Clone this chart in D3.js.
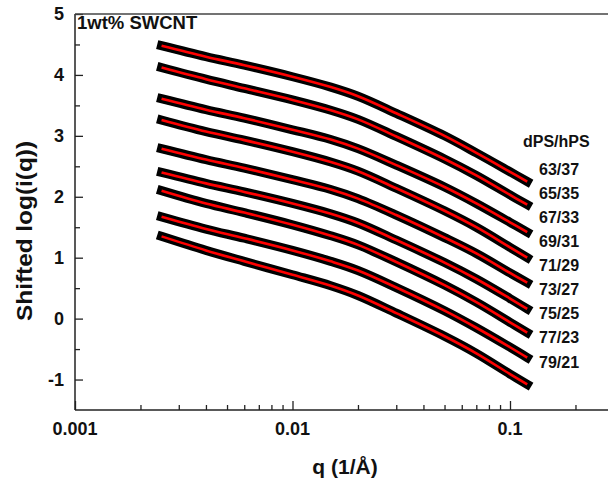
<!DOCTYPE html>
<html>
<head>
<meta charset="utf-8">
<script src="https://cdn.jsdelivr.net/npm/d3@7"></script>
<style>
  html, body { margin: 0; padding: 0; background: #ffffff; }
  svg text { font-family: "Liberation Sans", Arial, sans-serif; font-weight: bold; fill: #111; }
</style>
</head>
<body>
<svg id="chart" width="608" height="484"></svg>
<script>
// ---- data ----
const qValues = [0.0025, 0.004, 0.006, 0.01, 0.015, 0.02, 0.03, 0.05, 0.07, 0.1, 0.12];
const seriesLabels = ["63/37", "65/35", "67/33", "69/31", "71/29", "73/27", "75/25", "77/23", "79/21"];
const s63_37 = [4.48, 4.30, 4.16, 3.97, 3.80, 3.65, 3.37, 3.00, 2.72, 2.41, 2.25];
const s65_35 = [4.12, 3.93, 3.78, 3.59, 3.42, 3.27, 2.99, 2.62, 2.35, 2.03, 1.87];
const s67_33 = [3.61, 3.43, 3.29, 3.10, 2.94, 2.79, 2.52, 2.16, 1.89, 1.58, 1.42];
const s69_31 = [3.26, 3.07, 2.93, 2.74, 2.57, 2.42, 2.14, 1.77, 1.50, 1.17, 1.00];
const s71_29 = [2.79, 2.61, 2.47, 2.28, 2.12, 1.97, 1.70, 1.33, 1.07, 0.75, 0.59];
const s73_27 = [2.40, 2.22, 2.08, 1.89, 1.72, 1.57, 1.29, 0.92, 0.65, 0.33, 0.16];
const s75_25 = [2.10, 1.89, 1.74, 1.54, 1.36, 1.21, 0.93, 0.55, 0.27, -0.06, -0.23];
const s77_23 = [1.67, 1.47, 1.32, 1.12, 0.94, 0.79, 0.51, 0.13, -0.15, -0.47, -0.64];
const s79_21 = [1.35, 1.12, 0.94, 0.72, 0.54, 0.38, 0.09, -0.29, -0.57, -0.91, -1.08];
const seriesValues = [s63_37, s65_35, s67_33, s69_31, s71_29, s73_27, s75_25, s77_23, s79_21];
const xTickValues = [0.001, 0.01, 0.1];
const xTickLabels = ["0.001", "0.01", "0.1"];
const yTickValues = [-1, 0, 1, 2, 3, 4, 5];
const yTickLabels = ["-1", "0", "1", "2", "3", "4", "5"];
const yMinorTicks = [-0.5, 0.5, 1.5, 2.5, 3.5, 4.5];
const titleText = "1wt% SWCNT";
const legendTitle = "dPS/hPS";
const xAxisTitle = "q (1/Å)";
const yAxisTitle = "Shifted log(i(q))";

// ---- layout ----
const svg = d3.select("#chart");
const mLeft = 75, mTop = 14, mBottom = 410, mRight = 608;
const x = d3.scaleLog().domain([0.001, 0.001 * Math.pow(10, (mRight - mLeft) / 217.5)]).range([mLeft, mRight]);
const y = d3.scaleLinear().domain([-1.5, 5]).range([mBottom, mTop]);

svg.append("rect").attr("width", 608).attr("height", 484).attr("fill", "#ffffff");

// x minor ticks
const xMinor = [];
[0.001, 0.01, 0.1].forEach(d => { for (let k = 2; k <= 9; k++) { const v = d * k; if (x(v) < mRight) xMinor.push(v); } });

const axisG = svg.append("g");
const xAxisMajor = d3.axisBottom(x).tickValues(xTickValues).tickSize(-9).tickFormat("");
const xAxisMinor = d3.axisBottom(x).tickValues(xMinor).tickSize(-5).tickFormat("");
axisG.append("g").attr("transform", `translate(0,${mBottom})`).call(xAxisMinor)
  .call(g => g.select(".domain").remove());
axisG.append("g").attr("transform", `translate(0,${mBottom})`).call(xAxisMajor)
  .call(g => g.select(".domain").remove());
axisG.selectAll("line").attr("stroke", "#222").attr("stroke-width", 1.3);

svg.append("g").selectAll("text").data(xTickValues).join("text")
  .attr("x", d => x(d)).attr("y", 435)
  .attr("text-anchor", "middle").attr("font-size", 18)
  .text((d, i) => xTickLabels[i]);

const yAxisMajor = d3.axisLeft(y).tickValues(yTickValues).tickSize(-8).tickFormat("");
const yAxisMinor = d3.axisLeft(y).tickValues(yMinorTicks).tickSize(-5).tickFormat("");
const yg = svg.append("g").attr("transform", `translate(${mLeft},0)`);
yg.append("g").call(yAxisMinor).call(g => g.select(".domain").remove());
yg.append("g").call(yAxisMajor).call(g => g.select(".domain").remove());
yg.selectAll("line").attr("stroke", "#222").attr("stroke-width", 1.3);

svg.append("g").selectAll("text").data(yTickValues).join("text")
  .attr("x", 64).attr("y", d => y(d)).attr("dy", "0.36em")
  .attr("text-anchor", "end").attr("font-size", 18)
  .text((d, i) => yTickLabels[i]);

// frame lines (left, bottom, top)
svg.append("line").attr("x1", mLeft).attr("x2", mLeft).attr("y1", mTop).attr("y2", mBottom)
  .attr("stroke", "#222").attr("stroke-width", 1.5);
svg.append("line").attr("x1", mLeft).attr("x2", mRight).attr("y1", mBottom).attr("y2", mBottom)
  .attr("stroke", "#222").attr("stroke-width", 1.5);
svg.append("line").attr("x1", mLeft).attr("x2", mRight).attr("y1", mTop).attr("y2", mTop)
  .attr("stroke", "#444").attr("stroke-width", 1.5);

// curves
const line = d3.line().x((d, i) => x(qValues[i])).y(d => y(d)).curve(d3.curveCatmullRom.alpha(0.5));
const cg = svg.append("g");
cg.selectAll("path.data").data(seriesValues).join("path")
  .attr("class", "data").attr("d", line)
  .attr("fill", "none").attr("stroke", "#000").attr("stroke-width", 9)
  .attr("stroke-linecap", "square").attr("stroke-linejoin", "round");
cg.selectAll("path.fit").data(seriesValues).join("path")
  .attr("class", "fit").attr("d", line)
  .attr("fill", "none").attr("stroke", "#ff0000").attr("stroke-width", 2.6);

// title
svg.append("text").attr("x", 77).attr("y", 29).attr("font-size", 18.5).text(titleText);

// legend
svg.append("text").attr("x", 523).attr("y", 147).attr("font-size", 16).text(legendTitle);
svg.append("g").selectAll("text").data(seriesLabels).join("text")
  .attr("x", 539).attr("y", (d, i) => 169 + i * 24.1).attr("dy", "0.36em")
  .attr("font-size", 16).text(d => d);

// axis titles
svg.append("text").attr("x", 345).attr("y", 474).attr("text-anchor", "middle")
  .attr("font-size", 21).text(xAxisTitle);
svg.append("text").attr("transform", "translate(32,231) rotate(-90)")
  .attr("text-anchor", "middle").attr("font-size", 22)
  .attr("textLength", 180).attr("lengthAdjust", "spacingAndGlyphs")
  .text(yAxisTitle);
</script>
</body>
</html>
